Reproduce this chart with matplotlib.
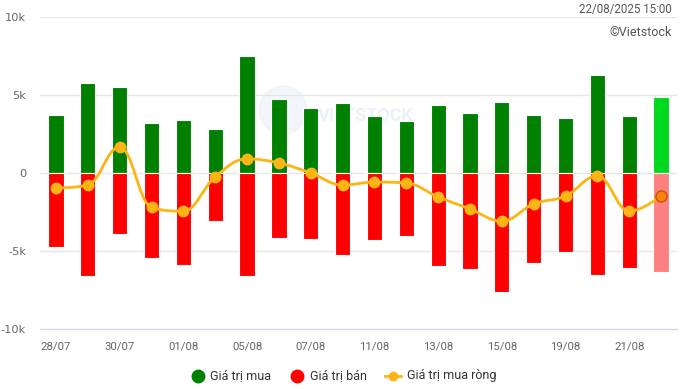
import numpy as np
import matplotlib.pyplot as plt
from matplotlib.path import Path
from matplotlib.patches import PathPatch, Ellipse

# --- Datos (tỷ đồng) ---
dates = ["28/07", "29/07", "30/07", "31/07", "01/08", "04/08", "05/08", "06/08",
         "07/08", "08/08", "11/08", "12/08", "13/08", "14/08", "15/08", "18/08",
         "19/08", "20/08", "21/08", "22/08"]
buy = [3720, 5770, 5510, 3200, 3400, 2820, 7500, 4740, 4170, 4490,
       3650, 3330, 4360, 3850, 4550, 3720, 3530, 6280, 3650, 4870]
sell = [-4740, -6600, -3910, -5450, -5900, -3080, -6600, -4170, -4230, -5260,
        -4290, -4040, -5960, -6150, -7630, -5770, -5060, -6540, -6090, -6350]
net = [-960, -770, 1670, -2200, -2440, -250, 900, 640, 0, -770,
       -580, -640, -1530, -2300, -3080, -1980, -1470, -190, -2440, -1470]

GREEN, RED = "#008000", "#ff0000"
LINE = "#fdb515"


def spline_path(xs, ys, smoothing=1.5):
    # curva tipo "spline" de Highcharts
    denom = smoothing + 1
    n = len(xs)
    lc = [(xs[i], ys[i]) for i in range(n)]
    rc = [(xs[i], ys[i]) for i in range(n)]
    for i in range(1, n - 1):
        px, py = xs[i], ys[i]
        lx = (smoothing * px + xs[i - 1]) / denom
        ly = (smoothing * py + ys[i - 1]) / denom
        rx = (smoothing * px + xs[i + 1]) / denom
        ry = (smoothing * py + ys[i + 1]) / denom
        corr = (ry - ly) * (rx - px) / (rx - lx) + py - ry
        ly += corr
        ry += corr
        if ly > ys[i - 1] and ly > py:
            ly = max(ys[i - 1], py); ry = 2 * py - ly
        elif ly < ys[i - 1] and ly < py:
            ly = min(ys[i - 1], py); ry = 2 * py - ly
        if ry > ys[i + 1] and ry > py:
            ry = max(ys[i + 1], py); ly = 2 * py - ry
        elif ry < ys[i + 1] and ry < py:
            ry = min(ys[i + 1], py); ly = 2 * py - ry
        lc[i] = (lx, ly)
        rc[i] = (rx, ry)
    verts = [(xs[0], ys[0])]
    codes = [Path.MOVETO]
    for i in range(1, n):
        verts += [rc[i - 1], lc[i], (xs[i], ys[i])]
        codes += [Path.CURVE4] * 3
    return Path(verts, codes)


fig = plt.figure(figsize=(6.82, 3.89), dpi=100)
ax = fig.add_axes([0.0587, 0.1535, 0.9340, 0.8035])
plt.rcParams['font.family'] = ['Roboto', 'DejaVu Sans']

x = np.arange(len(dates))
buy_colors = [GREEN] * (len(dates) - 1) + ["#00d81f"]
sell_colors = [RED] * (len(dates) - 1) + ["#ff8080"]
ax.bar(x, buy, width=0.48, color=buy_colors, edgecolor="white", linewidth=0.8, zorder=2)
ax.bar(x, sell, width=0.48, color=sell_colors, edgecolor="white", linewidth=0.8, zorder=2)

ax.add_patch(PathPatch(spline_path(x.astype(float), np.array(net, float)),
                       facecolor="none", edgecolor=LINE, lw=2, zorder=3))
ax.plot(x[:-1], net[:-1], "o", color=LINE, ms=7.5, mec=LINE, zorder=4)
ax.plot(x[-1:], net[-1:], "o", color="#ff7f0e", ms=8, mec="#b85a00", mew=1, zorder=4)

ax.set_xlim(-0.5, len(dates) - 0.5)
ax.set_ylim(-10000, 10000)
ax.set_yticks([-10000, -5000, 0, 5000, 10000])
ax.set_yticklabels(["-10k", "-5k", "0", "5k", "10k"])
ax.set_xticks(x[::2])
ax.set_xticklabels(dates[::2])
ax.tick_params(axis="both", length=0, labelsize=8.2, labelcolor="#666666")
ax.tick_params(axis="y", pad=10)
ax.tick_params(axis="x", pad=9)
ax.grid(axis="y", color="#e6e6e6", lw=1, zorder=0)
ax.set_axisbelow(True)
for s in ["top", "right", "left"]:
    ax.spines[s].set_visible(False)
ax.spines["bottom"].set_color("#ccd6eb")
ax.spines["bottom"].set_position(("data", -10000))

# marca de agua (detrás de las barras)
ax.add_patch(Ellipse((283 / 682, 1 - 110 / 389), 48 / 682, 48 / 389,
                     transform=fig.transFigure, color="#dbe7f2", alpha=0.35,
                     zorder=1, clip_on=False))
ax.text(318 / 682, 1 - 116 / 389, "VIETSTOCK", fontsize=13, fontweight="bold",
        color="#d3e1ee", alpha=0.45, va="center", ha="left",
        transform=fig.transFigure, zorder=1)

fig.text(672 / 682, 1 - 9 / 389, "22/08/2025 15:00", ha="right", va="center",
         fontsize=8.3, color="#555555")
fig.text(672 / 682, 1 - 33 / 389, "©Vietstock", ha="right", va="center",
         fontsize=9, color="#555555")

# leyenda
ly = 1 - 376 / 389
fig.lines.append(plt.Line2D([198 / 682], [ly], marker="o", ms=9, color=GREEN,
                            transform=fig.transFigure))
fig.text(210 / 682, ly, "Giá trị mua", va="center", fontsize=9, color="#333333")
fig.lines.append(plt.Line2D([297 / 682], [ly], marker="o", ms=9, color=RED,
                            transform=fig.transFigure))
fig.text(310 / 682, ly, "Giá trị bán", va="center", fontsize=9, color="#333333")
fig.lines.append(plt.Line2D([385 / 682, 401 / 682], [ly, ly], lw=2, color=LINE,
                            transform=fig.transFigure))
fig.lines.append(plt.Line2D([393 / 682], [ly], marker="o", ms=6, color=LINE,
                            transform=fig.transFigure))
fig.text(407 / 682, ly, "Giá trị mua ròng", va="center", fontsize=9, color="#333333")

fig.savefig("out.png", dpi=100)
